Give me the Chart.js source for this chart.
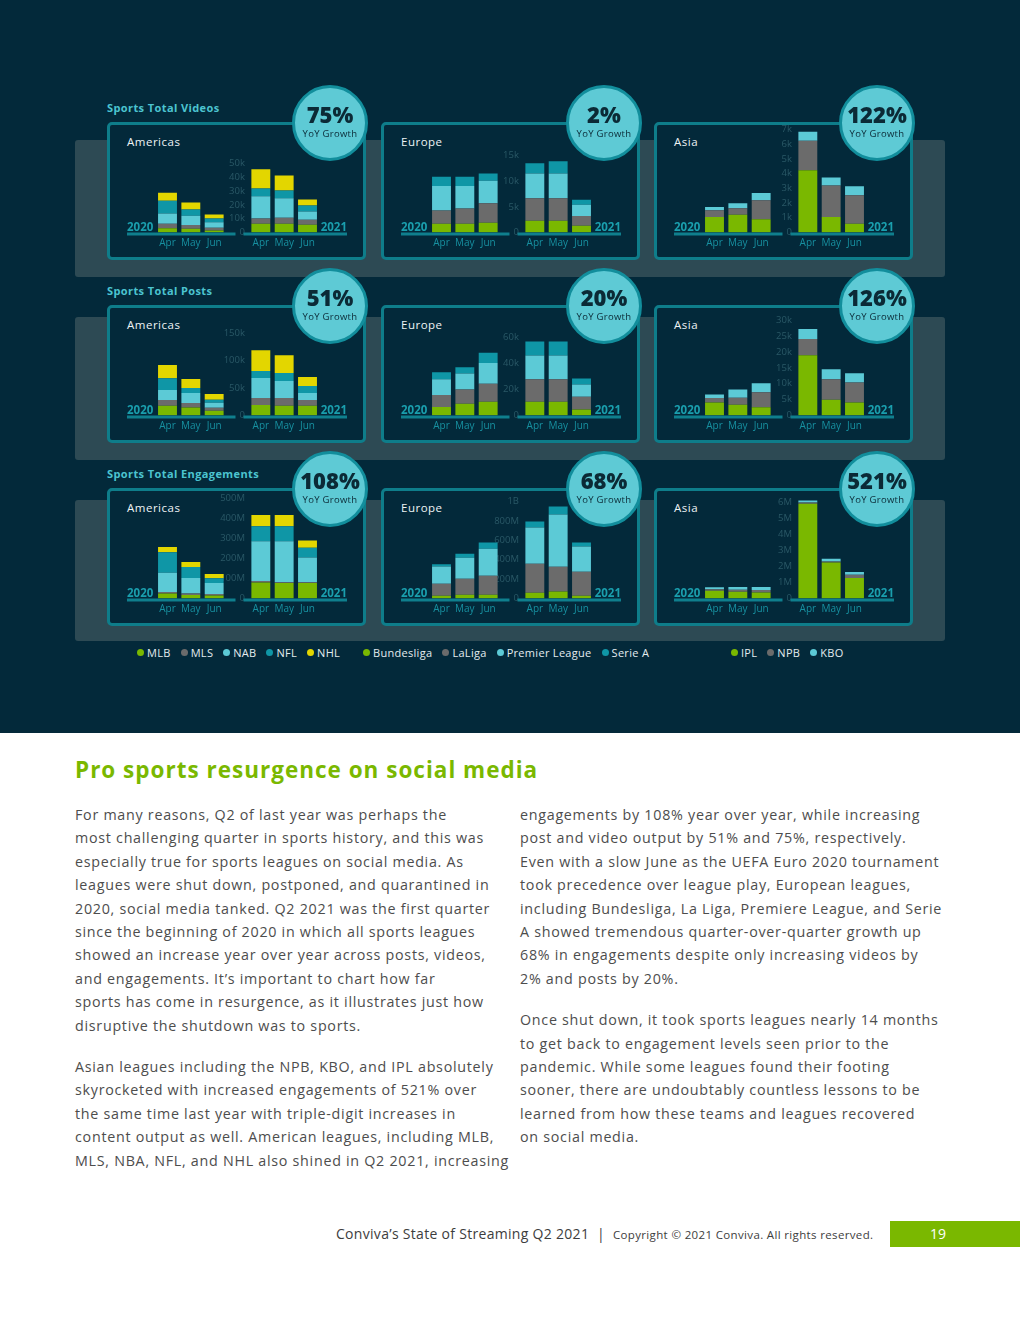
<!DOCTYPE html>
<html>
<head>
<meta charset="utf-8">
<script src="https://cdn.jsdelivr.net/npm/chart.js@4.4.0/dist/chart.umd.min.js"></script>
<style>
  body { margin: 0; width: 1020px; height: 1320px; background: #fff; position: relative; overflow: hidden; font-family: 'Open Sans', sans-serif; }
  .top { position: absolute; left: 0; top: 0; width: 1020px; height: 733px; background: #03293a; }
  .band { position: absolute; left: 75px; width: 870px; background: #2d4a54; border-radius: 3px; }
  .title { position: absolute; left: 107px; color: #4cc4d0; font-weight: 700; font-size: 11px; letter-spacing: 0.4px; line-height: 14px; }
  .panel { position: absolute; width: 253px; height: 132px; border: 3px solid #0e7d8a; border-radius: 5px; background: #03293a; }
  .region { position: absolute; color: #eef3f5; font-size: 11.5px; letter-spacing: 0.5px; line-height: 14px; }
  canvas.c { position: absolute; }
  .badge { position: absolute; width: 70px; height: 70px; border: 3px solid #128e9c; border-radius: 50%; background: #5ecad5; color: #0b2a36; text-align: center; }
  .badge b { position: absolute; left: 0; right: 0; top: 13px; font-size: 22px; line-height: 26px; font-weight: 800; }
  .badge span { position: absolute; left: 0; right: 0; top: 40px; font-size: 9.5px; line-height: 12px; letter-spacing: 0.3px; }
  .legend { position: absolute; top: 646px; display: flex; gap: 10px; color: #e4ecef; font-size: 11px; line-height: 14px; letter-spacing: 0.3px; }
  .legend i { display: inline-block; width: 7px; height: 7px; border-radius: 50%; margin-right: 3px; vertical-align: 1px; }
  h2 { position: absolute; left: 75px; top: 755px; margin: 0; color: #7ab800; font-size: 22.5px; font-weight: 700; line-height: 30px; letter-spacing: 1px; }
  .col { position: absolute; top: 803px; color: #4d4d4d; font-size: 14.3px; line-height: 23.4px; letter-spacing: 0.72px; white-space: nowrap; }
  .col p { margin: 0 0 18px 0; }
  .foot { position: absolute; top: 1224px; left: 336px; color: #3d3d3d; font-size: 14px; line-height: 20px; white-space: nowrap; letter-spacing: 0.3px; }
  .foot small { font-size: 11.5px; letter-spacing: 0.35px; }
  .page { position: absolute; left: 890px; top: 1221px; width: 130px; height: 26px; background: #7ab800; color: #fff; font-size: 14px; line-height: 26px; }
  .page span { position: absolute; left: 40px; }
</style>
</head>
<body>
<div class="top"></div>
<div class="band" style="top:140px;height:137px"></div>
<div class="band" style="top:317px;height:143px"></div>
<div class="band" style="top:500px;height:141px"></div>
<div id="stage"></div>

<h2>Pro sports resurgence on social media</h2>
<div class="col" style="left:75px">
<p>For many reasons, Q2 of last year was perhaps the<br>most challenging quarter in sports history, and this was<br>especially true for sports leagues on social media. As<br>leagues were shut down, postponed, and quarantined in<br>2020, social media tanked. Q2 2021 was the first quarter<br>since the beginning of 2020 in which all sports leagues<br>showed an increase year over year across posts, videos,<br>and engagements. It’s important to chart how far<br>sports has come in resurgence, as it illustrates just how<br>disruptive the shutdown was to sports.</p>
<p>Asian leagues including the NPB, KBO, and IPL absolutely<br>skyrocketed with increased engagements of 521% over<br>the same time last year with triple-digit increases in<br>content output as well. American leagues, including MLB,<br>MLS, NBA, NFL, and NHL also shined in Q2 2021, increasing</p>
</div>
<div class="col" style="left:520px">
<p>engagements by 108% year over year, while increasing<br>post and video output by 51% and 75%, respectively.<br>Even with a slow June as the UEFA Euro 2020 tournament<br>took precedence over league play, European leagues,<br>including Bundesliga, La Liga, Premiere League, and Serie<br>A showed tremendous quarter-over-quarter growth up<br>68% in engagements despite only increasing videos by<br>2% and posts by 20%.</p>
<p>Once shut down, it took sports leagues nearly 14 months<br>to get back to engagement levels seen prior to the<br>pandemic. While some leagues found their footing<br>sooner, there are undoubtably countless lessons to be<br>learned from how these teams and leagues recovered<br>on social media.</p>
</div>
<div class="foot">Conviva’s State of Streaming Q2 2021 &nbsp;|&nbsp; <small>Copyright © 2021 Conviva. All rights reserved.</small></div>
<div class="page"><span>19</span></div>

<script>
// months shown under each year group; empty slots hold the year labels and the value axis
const months = ['Apr', 'May', 'Jun'];
const xLabels = ['', ...months, '', ...months, ''];
const years = ['2020', '2021'];

const metrics = ['Sports Total Videos', 'Sports Total Posts', 'Sports Total Engagements'];
const regions = ['Americas', 'Europe', 'Asia'];

const americasLeagues = ['MLB', 'MLS', 'NAB', 'NFL', 'NHL'];
const europeLeagues = ['Bundesliga', 'LaLiga', 'Premier League', 'Serie A'];
const asiaLeagues = ['IPL', 'NPB', 'KBO'];

const green = '#7ab800', gray = '#6b6b6b', cyan = '#5ccad6', teal = '#0f96a6', yellow = '#e3d600';
const americasColors = [green, gray, cyan, teal, yellow];
const europeColors = [green, gray, cyan, teal];
const asiaColors = [green, gray, cyan];

// YoY growth badges, one per region
const growthVideos = ['75%', '2%', '122%'];
const growthPosts = ['51%', '20%', '126%'];
const growthEngagements = ['108%', '68%', '521%'];

// each league: Apr, May, Jun 2020 then Apr, May, Jun 2021
// videos, thousands
const videosAmericas = [
  [3.0, 2.7, 1.5, 6.3, 6.3, 5.6],
  [3.4, 2.7, 2.0, 3.9, 4.4, 3.7],
  [7.3, 6.8, 3.9, 16.1, 14.1, 5.9],
  [9.3, 4.4, 2.7, 5.6, 5.6, 4.4],
  [5.9, 5.1, 2.9, 13.9, 11.0, 4.4]
];
const videosEurope = [
  [1.7, 1.7, 1.9, 2.3, 2.3, 1.3],
  [2.6, 3.0, 3.8, 4.4, 4.4, 1.9],
  [4.8, 4.4, 4.4, 4.8, 4.8, 2.2],
  [1.8, 1.8, 1.4, 2.0, 2.4, 1.0]
];
const videosAsia = [
  [1.06, 1.2, 0.9, 4.24, 1.06, 0.59],
  [0.45, 0.45, 1.29, 2.0, 2.14, 1.94],
  [0.23, 0.34, 0.5, 0.61, 0.54, 0.61]
];
// posts, thousands
const postsAmericas = [
  [17.6, 14.5, 8.5, 19.4, 17.6, 17.6],
  [10.9, 8.5, 5.5, 12.7, 14.5, 10.9],
  [18.2, 18.2, 9.1, 36.4, 30.9, 12.7],
  [21.2, 9.1, 5.5, 12.7, 14.5, 12.7],
  [24.2, 16.4, 10.9, 38.2, 32.7, 16.4]
];
const postsEurope = [
  [6.6, 9.0, 10.5, 10.5, 10.5, 4.7],
  [9.2, 11.0, 14.0, 17.4, 17.4, 9.7],
  [12.1, 12.4, 15.8, 18.2, 18.2, 9.5],
  [5.3, 4.7, 7.9, 10.8, 10.8, 4.5]
];
const postsAsia = [
  [4.1, 3.4, 2.6, 19.0, 5.0, 4.1],
  [1.4, 2.2, 4.7, 5.1, 6.4, 6.3],
  [1.1, 2.6, 2.9, 3.2, 3.2, 2.9]
];
// engagements, millions
const engagementsAmericas = [
  [25, 17, 15, 80, 78, 78],
  [7, 8, 8, 8, 3, 3],
  [97, 78, 54, 198, 205, 124],
  [102, 54, 24, 75, 75, 49],
  [27, 25, 22, 56, 56, 36]
];
const engagementsEurope = [
  [28, 38, 38, 59, 72, 28],
  [124, 166, 197, 300, 255, 248],
  [179, 217, 279, 372, 538, 259],
  [21, 41, 62, 62, 83, 41]
];
const engagementsAsia = [
  [0.48, 0.42, 0.38, 5.92, 2.25, 1.28],
  [0.10, 0.13, 0.15, 0.08, 0.06, 0.21],
  [0.13, 0.17, 0.19, 0.13, 0.17, 0.17]
];

// value axis: last labelled tick, step, axis max
const videosTopTick = [50, 15, 7], videosStep = [10, 5, 1], videosMax = [75.4, 20.3, 7.07];
const postsTopTick = [150, 60, 30], postsStep = [50, 20, 5], postsMax = [190, 80, 32.8];
const engagementsTopTick = [500, 1000, 6], engagementsStep = [100, 200, 1], engagementsMax = [520, 1072, 6.5];

const rowTops = [122, 305, 488];
const colLefts = [107, 381, 654];
const font = "'Open Sans', sans-serif";

function fmt(v, unit) {
  if (v === 0) return '0';
  if (unit === 'M' && v >= 1000) return (v / 1000) + 'B';
  return v + unit;
}

function pad(vals) {
  return [null, vals[0], vals[1], vals[2], null, vals[3], vals[4], vals[5], null];
}

const baseline = {
  id: 'baseline',
  afterDatasetsDraw(chart) {
    const {ctx, chartArea, scales: {x, y}} = chart;
    const y0 = y.getPixelForValue(0) + 1.5;
    const mid = x.getPixelForValue(4) + 2;
    ctx.save();
    ctx.strokeStyle = '#0f7f8d';
    ctx.lineWidth = 3;
    ctx.beginPath();
    ctx.moveTo(chartArea.left - 5.5, y0); ctx.lineTo(mid - 4, y0);
    ctx.moveTo(mid + 4, y0); ctx.lineTo(chartArea.right + 4.5, y0);
    ctx.stroke();
    ctx.fillStyle = '#1a9fae';
    ctx.font = '700 11.5px ' + font;
    ctx.textAlign = 'left';
    ctx.fillText(years[0], chartArea.left - 5.5, y0 - 3);
    ctx.textAlign = 'right';
    ctx.fillText(years[1], chartArea.right + 4.5, y0 - 3);
    ctx.restore();
  }
};

const stage = document.getElementById('stage');

function addChart(row, col, series, names, colors, top, step, max, unit, growth) {
  const left = colLefts[col], topY = rowTops[row];
  if (col === 0) {
    const t = document.createElement('div');
    t.className = 'title';
    t.style.top = (topY - 21) + 'px';
    t.textContent = metrics[row];
    stage.appendChild(t);
  }
  const panel = document.createElement('div');
  panel.className = 'panel';
  panel.style.left = left + 'px';
  panel.style.top = topY + 'px';
  stage.appendChild(panel);

  const r = document.createElement('div');
  r.className = 'region';
  r.style.left = (left + 20) + 'px';
  r.style.top = (topY + 13) + 'px';
  r.textContent = regions[col];
  stage.appendChild(r);

  const cv = document.createElement('canvas');
  cv.className = 'c';
  cv.width = 240; cv.height = 135;
  cv.style.left = (left + 10) + 'px';
  cv.style.top = topY + 'px';
  stage.appendChild(cv);

  const b = document.createElement('div');
  b.className = 'badge';
  b.style.left = (left + 185) + 'px';
  b.style.top = (topY + 1 - 38) + 'px';
  b.innerHTML = '<b>' + growth + '</b><span>YoY Growth</span>';
  stage.appendChild(b);

  new Chart(cv, {
    type: 'bar',
    data: {
      labels: xLabels,
      datasets: series.map((vals, i) => ({
        label: names[i],
        data: pad(vals),
        backgroundColor: colors[i],
        borderWidth: 0,
        barPercentage: 0.81,
        categoryPercentage: 1
      }))
    },
    options: {
      responsive: false,
      animation: false,
      layout: { padding: { left: 15.5, right: 14.5, top: 6.5, bottom: 0 } },
      plugins: { legend: { display: false }, tooltip: { enabled: false } },
      scales: {
        x: {
          stacked: true,
          grid: { display: false },
          border: { display: false },
          afterFit: s => { s.height = 24.5; },
          ticks: { color: '#1790a0', font: { family: font, size: 10 }, padding: -3.5, autoSkip: false, maxRotation: 0 }
        },
        y: {
          stacked: true,
          min: 0,
          max: max,
          position: { x: 4.32 },
          afterFit: s => { s.width = 0; },
          afterBuildTicks: s => {
            const t = [];
            for (let v = 0; v <= top + 1e-9; v += step) t.push({ value: v });
            s.ticks = t;
          },
          grid: { display: false, drawTicks: false },
          border: { display: false },
          ticks: {
            autoSkip: false,
            padding: 0,
            color: '#2a5866',
            font: { family: font, size: 9.5 },
            callback: v => fmt(Math.round(v * 1000) / 1000, unit)
          }
        }
      }
    },
    plugins: [baseline]
  });
}

addChart(0, 0, videosAmericas, americasLeagues, americasColors, videosTopTick[0], videosStep[0], videosMax[0], 'k', growthVideos[0]);
addChart(0, 1, videosEurope, europeLeagues, europeColors, videosTopTick[1], videosStep[1], videosMax[1], 'k', growthVideos[1]);
addChart(0, 2, videosAsia, asiaLeagues, asiaColors, videosTopTick[2], videosStep[2], videosMax[2], 'k', growthVideos[2]);
addChart(1, 0, postsAmericas, americasLeagues, americasColors, postsTopTick[0], postsStep[0], postsMax[0], 'k', growthPosts[0]);
addChart(1, 1, postsEurope, europeLeagues, europeColors, postsTopTick[1], postsStep[1], postsMax[1], 'k', growthPosts[1]);
addChart(1, 2, postsAsia, asiaLeagues, asiaColors, postsTopTick[2], postsStep[2], postsMax[2], 'k', growthPosts[2]);
addChart(2, 0, engagementsAmericas, americasLeagues, americasColors, engagementsTopTick[0], engagementsStep[0], engagementsMax[0], 'M', growthEngagements[0]);
addChart(2, 1, engagementsEurope, europeLeagues, europeColors, engagementsTopTick[1], engagementsStep[1], engagementsMax[1], 'M', growthEngagements[1]);
addChart(2, 2, engagementsAsia, asiaLeagues, asiaColors, engagementsTopTick[2], engagementsStep[2], engagementsMax[2], 'M', growthEngagements[2]);

// shared legends under each column
const legendLefts = [137, 363, 731];
[[americasLeagues, americasColors], [europeLeagues, europeColors], [asiaLeagues, asiaColors]].forEach(([names, colors], i) => {
  const lg = document.createElement('div');
  lg.className = 'legend';
  lg.style.left = legendLefts[i] + 'px';
  lg.innerHTML = names.map((n, j) => '<span><i style="background:' + colors[j] + '"></i>' + n + '</span>').join('');
  stage.appendChild(lg);
});
</script>
</body>
</html>
